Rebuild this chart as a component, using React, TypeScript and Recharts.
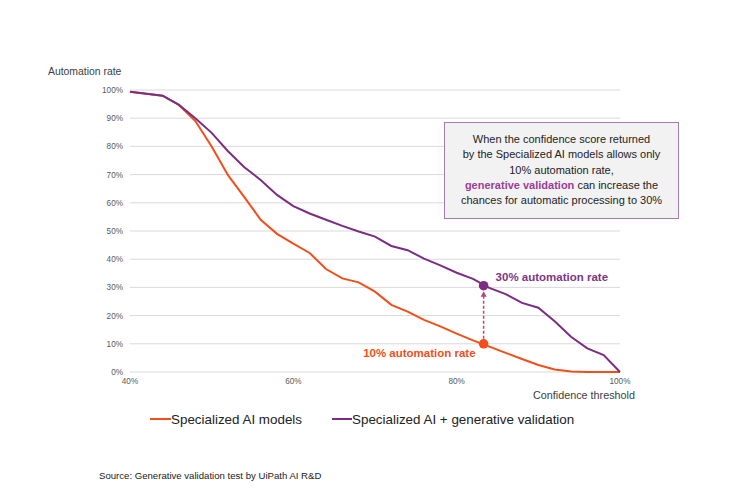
// App.tsx
import React from "react";
import {
  LineChart,
  Line,
  XAxis,
  YAxis,
  CartesianGrid,
  Legend,
  ReferenceDot,
  ReferenceLine,
} from "recharts";

// confidence threshold (%)
const thresholds = [40, 42, 44, 46, 48, 50, 52, 54, 56, 58, 60, 62, 64, 66, 68, 70, 72, 74, 76, 78, 80, 82, 84, 86, 88, 90, 92, 94, 96, 98, 100];
// automation rate (%) - Specialized AI models
const specialized = [99.4, 98.7, 98.0, 94.7, 89.0, 80.0, 69.8, 62.0, 54.0, 49.0, 45.5, 42.2, 36.5, 33.2, 31.8, 28.5, 23.8, 21.4, 18.5, 16.2, 13.6, 11.2, 9.0, 6.8, 4.6, 2.5, 0.9, 0.2, 0, 0, 0];
// automation rate (%) - Specialized AI + generative validation
const withGenerative = [99.4, 98.7, 98.0, 94.7, 90.0, 84.8, 78.3, 72.6, 68.1, 62.8, 58.8, 56.2, 54.0, 51.8, 49.8, 48.0, 44.7, 43.2, 40.2, 37.8, 35.2, 33.0, 29.8, 27.6, 24.5, 22.8, 18.0, 12.5, 8.4, 6.0, 0];

const xTicks = [40, 60, 80, 100];
const yTicks = [0, 10, 20, 30, 40, 50, 60, 70, 80, 90, 100];

// highlighted point
const markerThreshold = 83.3;
const markerLow = 10;
const markerHigh = 30.6;

const ORANGE = "#f24e1a";
const PURPLE = "#7b2d83";
const FONT = "'Liberation Sans', Arial, sans-serif";

const data = thresholds.map((t, i) => ({
  t,
  specialized: specialized[i],
  generative: withGenerative[i],
}));

const pct = (v: number) => `${v}%`;

const LegendContent = () => (
  <div style={{ display: "flex", alignItems: "center", height: 16, paddingLeft: 150, fontFamily: FONT, fontSize: 13.4, color: "#222" }}>
    <span style={{ display: "inline-block", width: 21, height: 2, background: ORANGE }} />
    <span style={{ marginRight: 30 }}>Specialized AI models</span>
    <span style={{ display: "inline-block", width: 20, height: 2, background: PURPLE }} />
    <span>Specialized AI + generative validation</span>
  </div>
);

const ArrowShape = (p: any) => {
  const x = p.x1;
  const yBottom = Math.max(p.y1, p.y2);
  const yTop = Math.min(p.y1, p.y2);
  const color = "#b5457e";
  return (
    <g>
      <line x1={x} x2={x} y1={yBottom - 5} y2={yTop + 10} stroke={color} strokeWidth={1.5} strokeDasharray="3 2" />
      <polygon points={`${x},${yTop + 5.5} ${x - 3},${yTop + 11} ${x + 3},${yTop + 11}`} fill={color} />
    </g>
  );
};

const HighDot = (p: any) => (
  <g>
    <circle cx={p.cx} cy={p.cy} r={4.8} fill={PURPLE} />
    <text x={p.cx + 12} y={p.cy - 9} dy="0.35em" fill="#7e3585" fontSize={11.5} fontWeight="bold" fontFamily={FONT}>
      30% automation rate
    </text>
  </g>
);

const LowDot = (p: any) => (
  <g>
    <circle cx={p.cx} cy={p.cy} r={4.8} fill={ORANGE} />
    <text x={p.cx - 8} y={p.cy + 9} dy="0.35em" textAnchor="end" fill={ORANGE} fontSize={11.5} fontWeight="bold" fontFamily={FONT}>
      10% automation rate
    </text>
  </g>
);

export default function App() {
  return (
    <div style={{ position: "absolute", left: 0, top: 0, width: 748, height: 500, background: "#fff", fontFamily: FONT }}>
      <LineChart width={748} height={500} data={data} margin={{ top: 90, right: 128, left: 70, bottom: 82 }}>
        <CartesianGrid vertical={false} stroke="#d9d9d9" />
        <XAxis
          dataKey="t"
          type="number"
          domain={[40, 100]}
          ticks={xTicks}
          tickFormatter={pct}
          axisLine={false}
          tickLine={false}
          tickSize={0}
          tickMargin={6}
          height={30}
          tick={{ fill: "#595959", fontSize: 8.2, fontFamily: FONT }}
        />
        <YAxis
          domain={[0, 100]}
          ticks={yTicks}
          tickFormatter={pct}
          axisLine={false}
          tickLine={false}
          tickSize={0}
          tickMargin={7}
          width={60}
          tick={{ fill: "#595959", fontSize: 8.2, fontFamily: FONT }}
        />
        <Legend content={<LegendContent />} wrapperStyle={{ left: 0, top: 411, width: 748 }} />
        <Line type="linear" dataKey="specialized" name="Specialized AI models" stroke={ORANGE} strokeWidth={2} dot={false} isAnimationActive={false} />
        <Line type="linear" dataKey="generative" name="Specialized AI + generative validation" stroke={PURPLE} strokeWidth={2} dot={false} isAnimationActive={false} />
        <ReferenceLine
          segment={[
            { x: markerThreshold, y: markerLow },
            { x: markerThreshold, y: markerHigh },
          ]}
          shape={ArrowShape}
        />
        <ReferenceDot x={markerThreshold} y={markerHigh} shape={HighDot} />
        <ReferenceDot x={markerThreshold} y={markerLow} shape={LowDot} />
      </LineChart>

      <div style={{ position: "absolute", left: 48, top: 67, fontSize: 10.4, color: "#404040", lineHeight: 1 }}>Automation rate</div>
      <div style={{ position: "absolute", right: 748 - 635, top: 389.5, fontSize: 10.8, color: "#404040", lineHeight: 1 }}>
        Confidence threshold
      </div>
      <div
        style={{
          position: "absolute",
          left: 444,
          top: 122,
          width: 235,
          height: 97,
          boxSizing: "border-box",
          border: "1px solid #a57bae",
          background: "#f2f2f2",
          textAlign: "center",
          fontSize: 11,
          lineHeight: "15.3px",
          paddingTop: 9,
          color: "#222",
        }}
      >
        When the confidence score returned
        <br />
        by the Specialized AI models allows only
        <br />
        10% automation rate,
        <br />
        <b style={{ color: "#9a3d96" }}>generative validation</b> can increase the
        <br />
        chances for automatic processing to 30%
      </div>
      <div style={{ position: "absolute", left: 99, top: 471, fontSize: 9.6, color: "#222", lineHeight: 1 }}>
        Source: Generative validation test by UiPath AI R&amp;D
      </div>
    </div>
  );
}
